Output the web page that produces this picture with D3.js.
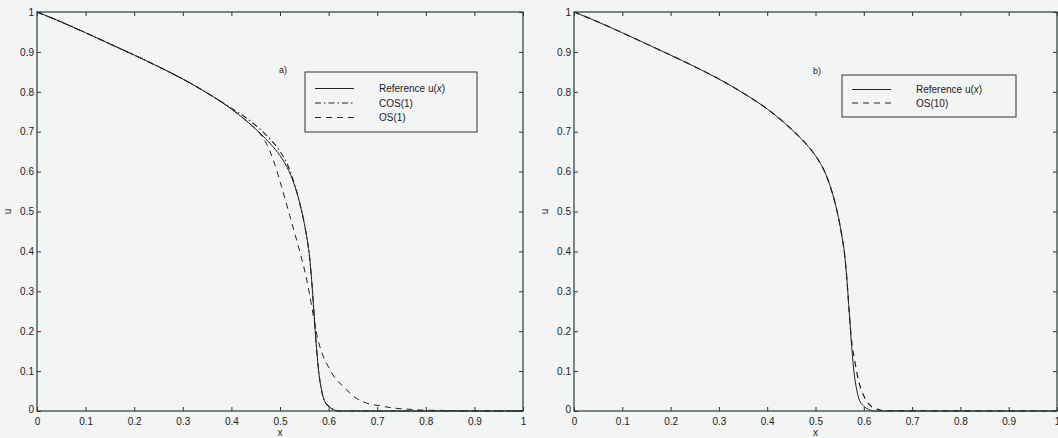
<!DOCTYPE html>
<html>
<head>
<meta charset="utf-8">
<script src="https://cdn.jsdelivr.net/npm/d3@7"></script>
<style>
  body { margin: 0; background: #f3f4f4; }
  text { font-family: "Liberation Sans", Arial, sans-serif; fill: #222; }
</style>
</head>
<body>
<script>
// tick values shared by both axes of both panels
var tickVals = [0, 0.1, 0.2, 0.3, 0.4, 0.5, 0.6, 0.7, 0.8, 0.9, 1];

// x grid for reference, COS(1) and OS(10)
var xGrid = [0, 0.05, 0.1, 0.15, 0.2, 0.25, 0.3, 0.35, 0.4, 0.43, 0.46, 0.48, 0.5, 0.51, 0.52, 0.53, 0.54, 0.55, 0.555, 0.56, 0.565, 0.57, 0.575, 0.58, 0.585, 0.59, 0.6, 0.61, 0.62, 0.63, 0.64, 1];
var refU  = [1, 0.975, 0.948, 0.92, 0.892, 0.863, 0.832, 0.797, 0.757, 0.728, 0.695, 0.67, 0.64, 0.621, 0.597, 0.565, 0.524, 0.47, 0.436, 0.395, 0.33, 0.245, 0.16, 0.095, 0.055, 0.03, 0.012, 0.004, 0, 0, 0, 0];
var cosU  = [1, 0.975, 0.948, 0.92, 0.892, 0.863, 0.832, 0.797, 0.759, 0.735, 0.705, 0.681, 0.651, 0.631, 0.604, 0.568, 0.524, 0.47, 0.436, 0.395, 0.33, 0.245, 0.16, 0.095, 0.055, 0.03, 0.012, 0.004, 0, 0, 0, 0];
var os10U = [1, 0.975, 0.948, 0.92, 0.892, 0.863, 0.832, 0.797, 0.757, 0.728, 0.695, 0.67, 0.64, 0.621, 0.597, 0.565, 0.524, 0.47, 0.436, 0.395, 0.33, 0.245, 0.172, 0.135, 0.1, 0.072, 0.038, 0.018, 0.008, 0.004, 0.001, 0];

// OS(1) has its own grid (long tail)
var os1X = [0, 0.05, 0.1, 0.15, 0.2, 0.25, 0.3, 0.35, 0.4, 0.43, 0.46, 0.47, 0.486, 0.503, 0.52, 0.535, 0.545, 0.553, 0.56, 0.566, 0.572, 0.58, 0.589, 0.599, 0.613, 0.63, 0.651, 0.678, 0.706, 0.733, 0.77, 0.8, 1];
var os1U = [1, 0.975, 0.948, 0.92, 0.892, 0.863, 0.832, 0.797, 0.757, 0.728, 0.693, 0.675, 0.63, 0.563, 0.49, 0.425, 0.38, 0.34, 0.298, 0.257, 0.215, 0.17, 0.137, 0.112, 0.083, 0.062, 0.037, 0.02, 0.013, 0.0075, 0.004, 0.002, 0];

var w = 1058, h = 438;
var ink = "#222";
var dashStyles = { solid: null, dashdot: "6,3,1.5,3", dashed: "6,5" };

var svg = d3.select("body").append("svg")
    .attr("width", w)
    .attr("height", h);

svg.append("rect").attr("width", w).attr("height", h).attr("fill", "#f3f4f4");

function zip(xs, us) {
    return xs.map(function(x, i){ return { x: x, u: us[i] }; });
}

function fmt(d) { return String(+d.toFixed(1)); }

function drawPanel(p) {
    var x = d3.scaleLinear().domain([0, 1]).range([p.left, p.right]);
    var y = d3.scaleLinear().domain([0, 1]).range([p.bottom, p.top]);
    var g = svg.append("g");

    var line = d3.line()
        .x(function(d){ return x(d.x); })
        .y(function(d){ return y(d.u); })
        .curve(d3.curveMonotoneX);

    // curves
    p.series.forEach(function(s){
        g.append("path")
            .datum(s.data)
            .attr("d", line)
            .attr("fill", "none")
            .attr("stroke", ink)
            .attr("stroke-width", s.width || 1)
            .attr("stroke-dasharray", dashStyles[s.style]);
    });

    // axes, ticks pointing inward
    var bottom = g.append("g").attr("transform", "translate(0," + p.bottom + ")")
        .call(d3.axisBottom(x).tickValues(tickVals).tickSizeInner(-4).tickSizeOuter(0).tickPadding(7).tickFormat(fmt));
    var left = g.append("g").attr("transform", "translate(" + p.left + ",0)")
        .call(d3.axisLeft(y).tickValues(tickVals).tickSizeInner(-4).tickSizeOuter(0).tickPadding(3).tickFormat(fmt));
    var top = g.append("g").attr("transform", "translate(0," + p.top + ")")
        .call(d3.axisTop(x).tickValues(tickVals).tickSizeInner(-4).tickSizeOuter(0).tickFormat(""));
    var right = g.append("g").attr("transform", "translate(" + p.right + ",0)")
        .call(d3.axisRight(y).tickValues(tickVals).tickSizeInner(-4).tickSizeOuter(0).tickFormat(""));

    [bottom, left, top, right].forEach(function(a){
        a.select(".domain").remove();
        a.attr("font-family", null).attr("font-size", 10);
        a.selectAll(".tick line").attr("stroke", "#333");
    });
    bottom.selectAll("text").attr("dy", "0.71em");
    left.select(".tick text").attr("dy", "0.1em");

    g.append("rect")
        .attr("x", p.left).attr("y", p.top)
        .attr("width", p.right - p.left).attr("height", p.bottom - p.top)
        .attr("fill", "none").attr("stroke", "#2e3a34").attr("stroke-width", 1.2);

    // axis labels
    g.append("text")
        .attr("x", (p.left + p.right) / 2).attr("y", 436)
        .attr("text-anchor", "middle").attr("font-size", 10)
        .text("x");
    g.append("text")
        .attr("transform", "translate(" + (p.left - 26) + "," + y(0.5) + ") rotate(-90)")
        .attr("text-anchor", "middle").attr("font-size", 10)
        .text("u");

    // panel tag + legend
    var L = p.legend;
    g.append("text").attr("x", L.tagX).attr("y", L.tagY)
        .attr("font-size", 9).text(p.tag);
    g.append("rect")
        .attr("x", L.x).attr("y", L.y).attr("width", L.w).attr("height", L.h)
        .attr("fill", "none").attr("stroke", "#333").attr("stroke-width", 1);
    p.series.forEach(function(s, i){
        var ry = L.y + L.rowTop + i * L.rowGap;
        g.append("line")
            .attr("x1", L.x + 10).attr("x2", L.x + 49)
            .attr("y1", ry).attr("y2", ry)
            .attr("stroke", ink).attr("stroke-width", 1)
            .attr("stroke-dasharray", dashStyles[s.style]);
        var t = g.append("text").attr("x", L.x + 74).attr("y", ry + 3.5).attr("font-size", 10);
        if (s.name === "Reference u(x)") {
            t.append("tspan").text("Reference u(");
            t.append("tspan").attr("font-style", "italic").text("x");
            t.append("tspan").text(")");
        } else {
            t.text(s.name);
        }
    });
}

drawPanel({
    left: 37, right: 523, top: 12, bottom: 411,
    tag: "a)",
    legend: { x: 305, y: 72, w: 172, h: 60, rowTop: 16.5, rowGap: 14.5, tagX: 279, tagY: 73 },
    series: [
        { name: "Reference u(x)", style: "solid", data: zip(xGrid, refU) },
        { name: "COS(1)", style: "dashdot", data: zip(xGrid, cosU), width: 1.1 },
        { name: "OS(1)", style: "dashed", data: zip(os1X, os1U) }
    ]
});

drawPanel({
    left: 574, right: 1057, top: 12, bottom: 411,
    tag: "b)",
    legend: { x: 842, y: 75, w: 174, h: 42, rowTop: 14.5, rowGap: 13.5, tagX: 813, tagY: 74 },
    series: [
        { name: "Reference u(x)", style: "solid", data: zip(xGrid, refU) },
        { name: "OS(10)", style: "dashed", data: zip(xGrid, os10U), width: 1.2 }
    ]
});
</script>
</body>
</html>
